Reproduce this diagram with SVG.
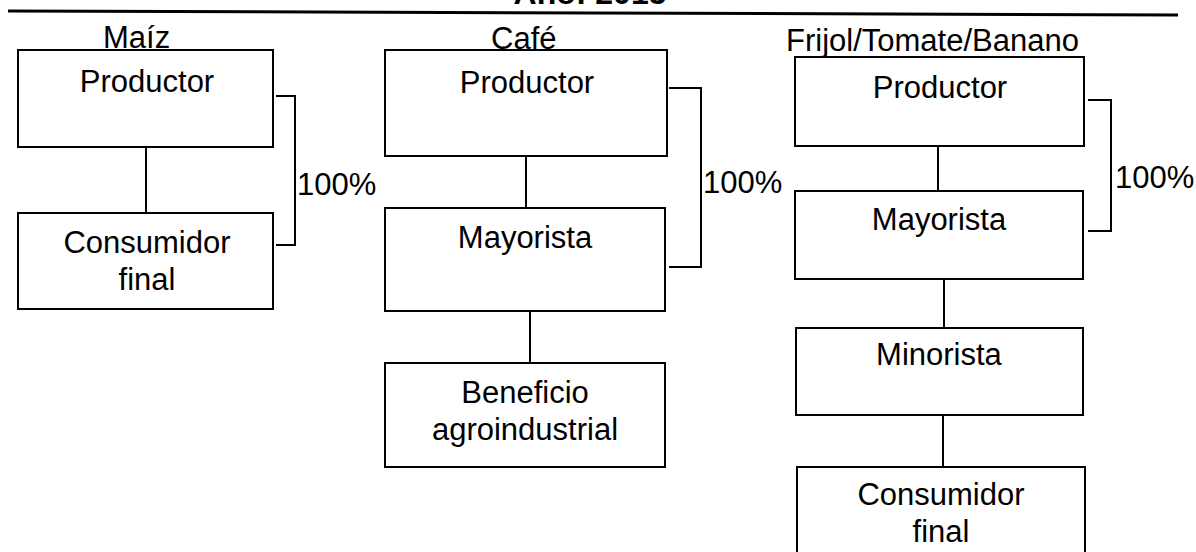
<svg xmlns="http://www.w3.org/2000/svg" width="1196" height="552" viewBox="0 0 1196 552">
<style>
.box{fill:#fff;stroke:#000;stroke-width:2}
.ln{fill:none;stroke:#000;stroke-width:2}
.t{font-family:"Liberation Sans",Arial,sans-serif;font-size:31px;fill:#000;text-anchor:middle}
.h{font-family:"Liberation Sans",Arial,sans-serif;font-size:31px;fill:#000}
.p{font-family:"Liberation Sans",Arial,sans-serif;font-size:31px;fill:#000}
</style>
<rect width="1196" height="552" fill="#fff"/>
<g id="title">
<text x="590" y="4" font-family="Liberation Sans, Arial, sans-serif" font-size="32" font-weight="bold" text-anchor="middle">Año: 2015</text>
<line x1="8" y1="11" x2="1178" y2="15" stroke="#000" stroke-width="3"/>
</g>
<g id="headers">
<text class="h" x="103" y="48">Maíz</text>
<text class="h" x="491" y="49">Café</text>
<text class="h" x="786" y="51">Frijol/Tomate/Banano</text>
</g>
<g id="connectors">
<line class="ln" x1="146" y1="147" x2="146" y2="213"/>
<polyline class="ln" points="276,96 295,96 295,245 276,245"/>
<line class="ln" x1="526" y1="156" x2="526" y2="208"/>
<line class="ln" x1="530" y1="311" x2="530" y2="363"/>
<polyline class="ln" points="669,88 701,88 701,267 669,267"/>
<line class="ln" x1="938" y1="146" x2="938" y2="191"/>
<line class="ln" x1="944" y1="279" x2="944" y2="328"/>
<line class="ln" x1="943" y1="415" x2="943" y2="467"/>
<polyline class="ln" points="1088,100 1111,100 1111,231 1088,231"/>
<text class="p" x="297" y="195">100%</text>
<text class="p" x="703" y="193">100%</text>
<text class="p" x="1115" y="188">100%</text>
</g>
<g id="maiz-productor"><rect class="box" x="18" y="50" width="255" height="97"/><text class="t" x="147" y="92">Productor</text></g>
<g id="maiz-consumidor"><rect class="box" x="18" y="213" width="255" height="96"/><text class="t" x="147" y="253">Consumidor</text><text class="t" x="147" y="290">final</text></g>
<g id="cafe-productor"><rect class="box" x="385" y="50" width="282" height="106"/><text class="t" x="527" y="93">Productor</text></g>
<g id="cafe-mayorista"><rect class="box" x="385" y="208" width="280" height="103"/><text class="t" x="525" y="248">Mayorista</text></g>
<g id="cafe-beneficio"><rect class="box" x="385" y="363" width="280" height="104"/><text class="t" x="525" y="403">Beneficio</text><text class="t" x="525" y="440">agroindustrial</text></g>
<g id="fr-productor"><rect class="box" x="795" y="57" width="289" height="89"/><text class="t" x="940" y="98">Productor</text></g>
<g id="fr-mayorista"><rect class="box" x="795" y="191" width="288" height="88"/><text class="t" x="939" y="230">Mayorista</text></g>
<g id="fr-minorista"><rect class="box" x="796" y="328" width="287" height="87"/><text class="t" x="939" y="365">Minorista</text></g>
<g id="fr-consumidor"><rect class="box" x="797" y="467" width="288" height="92"/><text class="t" x="941" y="505">Consumidor</text><text class="t" x="941" y="542">final</text></g>
</svg>
